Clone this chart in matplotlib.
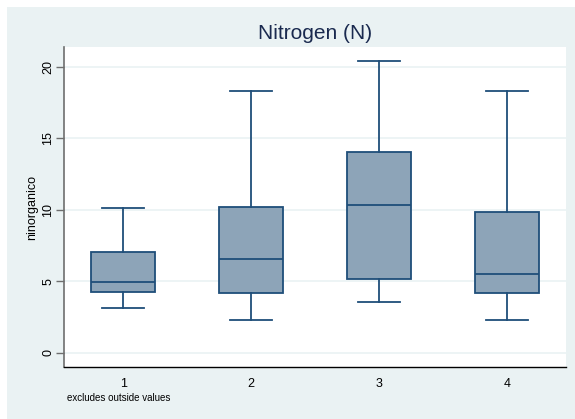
import matplotlib.pyplot as plt
from matplotlib.patches import Rectangle

plt.rcParams['font.family'] = ['Liberation Sans', 'DejaVu Sans']

# box summary per group: lower whisker, Q1, median, Q3, upper whisker
groups = ["1", "2", "3", "4"]
whislo = [3.13, 2.31, 3.53, 2.31]
q1 = [4.23, 4.20, 5.14, 4.20]
med = [4.93, 6.54, 10.36, 5.53]
q3 = [7.03, 10.20, 14.02, 9.88]
whishi = [10.11, 18.35, 20.43, 18.35]
yticks = [0, 5, 10, 15, 20]

navy = "#1f4e79"
fill = "#8da4b8"
bg = "#eaf2f3"

fig = plt.figure(figsize=(5.75, 4.19), dpi=100)
fig.patch.set_facecolor("white")
# light graph region with a thin white frame on top/left
fig.patches.append(Rectangle((7 / 575, 0), 1, 1 - 7 / 419, transform=fig.transFigure,
                             facecolor=bg, edgecolor="none", zorder=-1))

ax = fig.add_axes([64 / 575, 1 - 367 / 419, (566 - 64) / 575, (367 - 47) / 419])
ax.set_facecolor("white")

stats = []
for i, g in enumerate(groups):
    stats.append(dict(label=g, whislo=whislo[i], q1=q1[i], med=med[i],
                      q3=q3[i], whishi=whishi[i], fliers=[]))

ax.bxp(stats, positions=[1, 2, 3, 4], widths=0.5, patch_artist=True,
       showfliers=False,
       boxprops=dict(facecolor=fill, edgecolor=navy, linewidth=1.3),
       medianprops=dict(color=navy, linewidth=1.3),
       whiskerprops=dict(color=navy, linewidth=1.3),
       capprops=dict(color=navy, linewidth=1.3),
       capwidths=0.33)

ax.set_xlim(0.537, 4.463)
ax.set_ylim(-1.0, 21.4)
ax.set_yticks(yticks)
ax.set_yticklabels([str(t) for t in yticks], rotation=90, va="center")
ax.grid(axis="y", color=bg, linewidth=1.2)
ax.set_axisbelow(True)

for s in ["top", "right"]:
    ax.spines[s].set_visible(False)
ax.spines["left"].set_color("#6e6e6e")
ax.spines["left"].set_linewidth(1.2)
ax.spines["bottom"].set_color("black")
ax.spines["bottom"].set_linewidth(1.0)

ax.tick_params(axis="y", length=6, width=1, color="#6e6e6e", labelsize=9, pad=1)
ax.tick_params(axis="x", length=0, labelsize=9, pad=8)

ax.set_ylabel("ninorganico", fontsize=9, labelpad=3)
ax.set_title("Nitrogen (N)", fontsize=15, color="#1a2a4f", pad=6)

fig.text(67 / 575, 1 - 398 / 419, "excludes outside values", fontsize=7,
         va="center", ha="left")

fig.savefig("out.png", dpi=100, facecolor=fig.get_facecolor())
